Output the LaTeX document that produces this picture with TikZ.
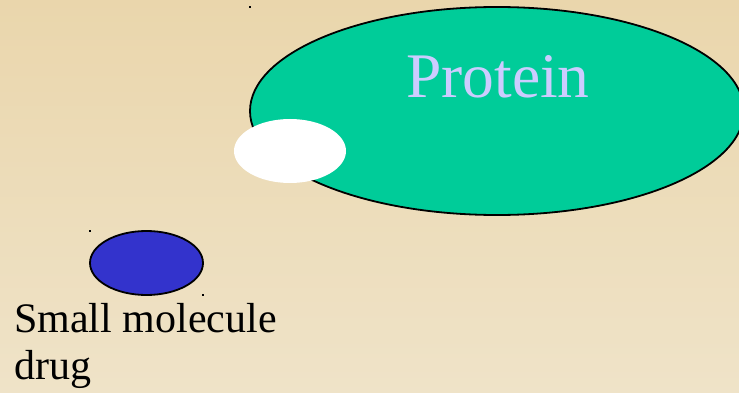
\documentclass[tikz,border=0pt]{standalone}
\usepackage{fontspec}
\setmainfont{Liberation Serif}
\usetikzlibrary{shapes.geometric,positioning,calc}
\definecolor{parchtop}{HTML}{EAD6AC}
\definecolor{parchbot}{HTML}{EFE3C8}
\definecolor{protfill}{HTML}{00CC99}
\definecolor{protlabel}{HTML}{CCCCFF}
\definecolor{drugfill}{HTML}{3333CC}
\tikzset{
  blob/.style={ellipse,inner sep=0pt,outer sep=0pt,line width=1.8pt},
  protein/.style={blob,draw=black,fill=protfill,minimum width=494pt,minimum height=208pt},
  pocket/.style={blob,fill=white,minimum width=112pt,minimum height=64pt},
  drug/.style={blob,draw=black,fill=drugfill,minimum width=113pt,minimum height=64pt},
  biglab/.style={inner sep=0pt,text=protlabel,font=\fontsize{63.5}{70}\selectfont},
  druglab/.style={inner sep=0pt,align=left,font=\fontsize{42}{47}\selectfont},
  tick/.style={fill=black},
}
\begin{document}
\begin{tikzpicture}[x=1pt,y=-1pt]
  \useasboundingbox (0,0) rectangle (739,393);
  \shade[top color=parchtop,bottom color=parchbot] (0,0) rectangle (739,393);
  % protein with its binding pocket
  \node[protein](prot) at (497,111) {};
  \node[biglab,anchor=base](plab) at (498,98) {Protein};
  \node[pocket](pock) at (290,151) {};
  % the drug
  \node[drug](drg) at (146.5,263) {};
  \node[druglab,anchor=north west](dlab) at (14,303) {Small molecule\\drug};
  % stray corner marks
  \fill[tick] ($(prot.west |- prot.north)+(-1,-1)$) rectangle ++(2,2);
  \fill[tick] ($(drg.west |- drg.north)+(-1,-1)$) rectangle ++(2,2);
  \fill[tick] ($(drg.east |- drg.south)+(-1,-1)$) rectangle ++(2,2);
\end{tikzpicture}
\end{document}
